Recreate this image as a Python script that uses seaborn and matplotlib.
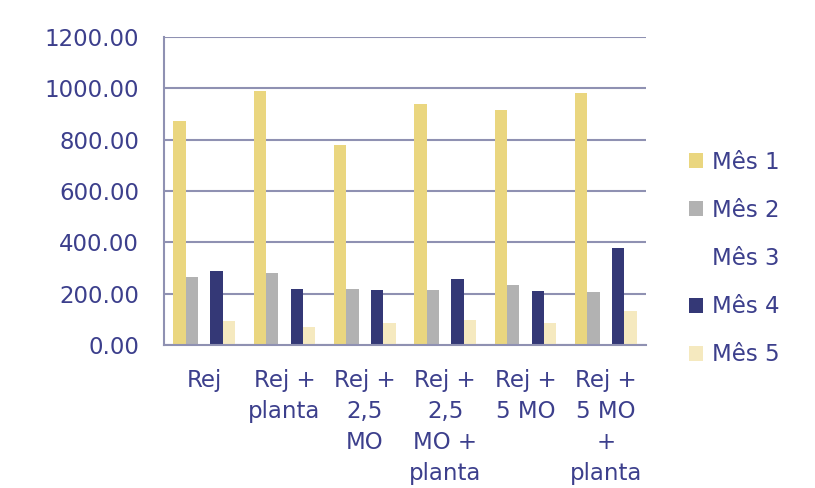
import matplotlib
matplotlib.use("Agg")
import matplotlib.pyplot as plt
import seaborn as sns
import pandas as pd
from matplotlib.patches import Patch

categories = ["Rej", "Rej +\nplanta", "Rej +\n2,5\nMO", "Rej +\n2,5\nMO +\nplanta",
              "Rej +\n5 MO", "Rej +\n5 MO\n+\nplanta"]
series_names = ["Mês 1", "Mês 2", "Mês 3", "Mês 4", "Mês 5"]
mes1 = [871, 988, 778, 938, 914, 983]
mes2 = [265, 281, 219, 215, 235, 205]
mes3 = [250, 240, 230, 245, 235, 255]
mes4 = [287, 219, 215, 257, 209, 379]
mes5 = [92, 69, 84, 97, 84, 131]
y_ticks = [0, 200, 400, 600, 800, 1000, 1200]

colors = ["#EAD67F", "#B2B2B2", "#FFFFFF", "#343876", "#F5E9BF"]
text_color = "#3C3F8C"
axis_color = "#8F91B2"

rows = []
for name, vals in zip(series_names, [mes1, mes2, mes3, mes4, mes5]):
    for c, v in zip(categories, vals):
        rows.append({"grupo": c, "mes": name, "valor": v})
df = pd.DataFrame(rows)

sns.set_style("white")
plt.rcParams["font.family"] = ["DejaVu Sans"]

fig = plt.figure(figsize=(8.15, 4.88), dpi=100)
ax = fig.add_axes([164/815, 1-345/488, (646-164)/815, (345-37)/488])
ax.set_axisbelow(True)
sns.barplot(data=df, x="grupo", y="valor", hue="mes", order=categories,
            hue_order=series_names, palette=colors, width=0.77, gap=0,
            dodge=True, saturation=1, ax=ax, legend=False, linewidth=0,
            errorbar=None)

ax.set_xlim(-0.5, 5.5)
ax.set_ylim(0, 1200)
ax.set_yticks(y_ticks)
ax.set_yticklabels([f"{v:.2f}" for v in y_ticks])
ax.yaxis.grid(True, color=axis_color, linewidth=1.5)
ax.set_xlabel("")
ax.set_ylabel("")

ax.set_xticks([i - 0.5 for i in range(7)])
ax.set_xticklabels([])
ax.set_xticks(range(6), minor=True)
ax.set_xticklabels(categories, minor=True, color=text_color, fontsize=16.5,
                   linespacing=1.44, va="top", ha="center", multialignment="center")
ax.tick_params(axis="x", which="minor", length=0, pad=17.5)
ax.tick_params(axis="x", which="major", length=7, width=1.5, color=axis_color, direction="out")
ax.tick_params(axis="y", length=9, width=1.5, color=axis_color, direction="out",
               labelcolor=text_color, labelsize=16.5, pad=9)

for s in ["top", "right"]:
    ax.spines[s].set_visible(False)
for s in ["left", "bottom"]:
    ax.spines[s].set_color(axis_color)
    ax.spines[s].set_linewidth(1.5)

handles = [Patch(facecolor=c, edgecolor="none") for c in colors]
leg = fig.legend(handles, series_names, loc="upper left",
                 bbox_to_anchor=(668/815, 1-130/488), frameon=False,
                 handlelength=0.62, handleheight=0.62, handletextpad=0.4,
                 labelspacing=1.1, fontsize=16.5, labelcolor=text_color)

fig.savefig("out.png", dpi=100, facecolor="white")
